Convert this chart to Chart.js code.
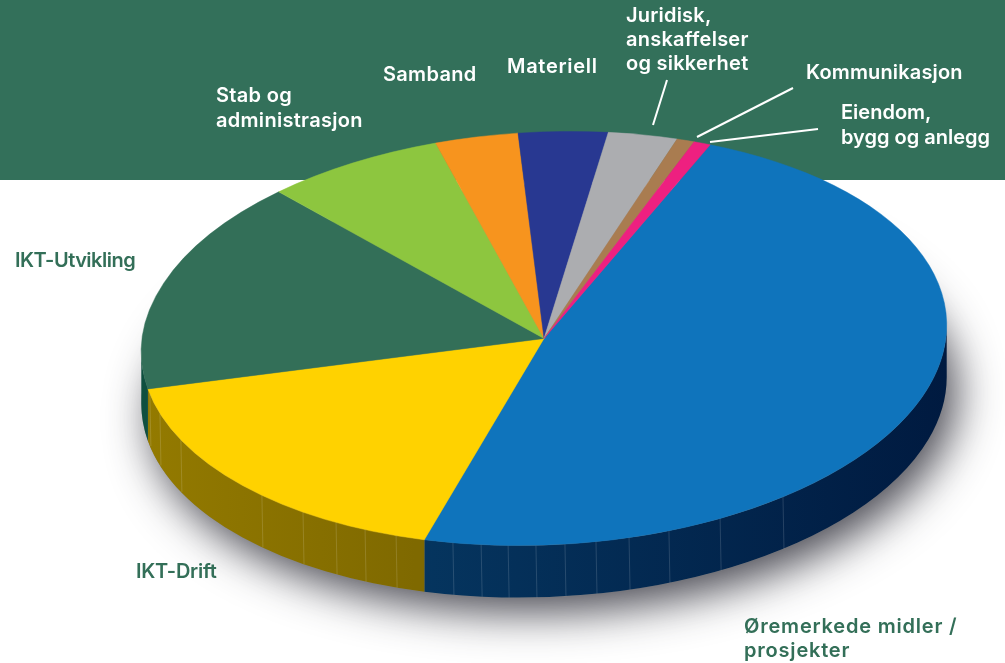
<!DOCTYPE html>
<html><head><meta charset="utf-8">
<style>html,body{margin:0;padding:0;background:#fff;overflow:hidden}#wrap{width:1005px;height:663px;position:relative}</style>
<script src="https://cdn.jsdelivr.net/npm/chart.js@4"></script>
</head><body><div id="wrap"><canvas id="c" width="1005" height="663"></canvas></div>
<script>
const categories = ["Øremerkede midler / prosjekter","IKT-Drift","IKT-Utvikling","Stab og administrasjon","Samband","Materiell","Juridisk, anskaffelser og sikkerhet","Eiendom, bygg og anlegg","Kommunikasjon"];
const values = [48.03,17.31,16.44,7.11,3.31,3.58,2.81,0.72,0.69];
const colors = ["#0f74bc","#ffd200","#336f58","#8dc63f","#f7941e","#283891","#acadb0","#a97c50","#ee2080"];
const sideColors = [["#05355f","#001a40"],["#937a00","#7f6900"],["#0f4f3f","#0f4f3f"],["#567a26","#567a26"],["#95591a","#95591a"],["#182259","#182259"],["#68686a","#68686a"],["#654b30","#654b30"],["#8f124a","#8f124a"]];
const startAngle = 25.7;
const TILT = 206.5/403, DEPTH = 52, BAND = 180, PHI = 0.045;
const blueFacets = [-.226,-.156,-.089,-.020,.052,.129,.211,.310,.437,.593];
const yellowFacets = [-.978,-.953,-.901,-.700,-.598,-.516,-.444,-.367];
const FONT = '600 20px Inter';
const labels = [
 {t:"Juridisk,",x:626,y:22,c:"#fff",ls:.2},{t:"anskaffelser",x:626,y:46,c:"#fff",ls:.25},{t:"og sikkerhet",x:626,y:70,c:"#fff",ls:.25},
 {t:"Kommunikasjon",x:806,y:79,c:"#fff",ls:.15},
 {t:"Eiendom,",x:841,y:119,c:"#fff",ls:0},{t:"bygg og anlegg",x:841,y:144,c:"#fff",ls:0},
 {t:"Stab og",x:216,y:102,c:"#fff",ls:.3},{t:"administrasjon",x:216,y:127,c:"#fff",ls:.3},
 {t:"Samband",x:383,y:81,c:"#fff",ls:.3},{t:"Materiell",x:507,y:73,c:"#fff",ls:.7},
 {t:"IKT-Utvikling",x:15,y:267,c:"#336f58",ls:-.5},{t:"IKT-Drift",x:136,y:578,c:"#336f58",ls:-.25},
 {t:"Øremerkede midler /",x:744,y:633,c:"#336f58",ls:.8},{t:"prosjekter",x:744,y:657,c:"#336f58",ls:.8}
];
const leaders = [[667,80,653,125],[793,88,697,137],[818,129,710,142]];

function geom(chart){const a=chart.getDatasetMeta(0).data[0];return {cx:a.x,cy:a.y,rx:a.outerRadius,ry:a.outerRadius*TILT};}
const pie3d = {
 id:'pie3d',
 beforeDatasetsDraw(chart){
  const ctx=chart.ctx,{cx,cy,rx,ry}=geom(chart);
  ctx.save();
  ctx.fillStyle='#33705a';ctx.fillRect(0,0,chart.width,BAND);
  ctx.beginPath();ctx.rect(0,BAND,chart.width,chart.height-BAND);ctx.clip();
  ctx.shadowColor='rgba(50,50,60,0.88)';ctx.shadowBlur=44;ctx.shadowOffsetX=10;ctx.shadowOffsetY=15;
  ctx.fillStyle='#888';
  ctx.beginPath();ctx.ellipse(cx,cy+DEPTH,rx,ry,-PHI,0,Math.PI*2);ctx.fill();
  ctx.restore();
  // side wall: the parameter range whose outward normal faces the viewer
  const t0=Math.atan(TILT*Math.tan(PHI));
  chart.getDatasetMeta(0).data.forEach((arc,i)=>{
   for(const k of [-2,0,2]){
    const lo=k*Math.PI+t0,hi=(k+1)*Math.PI+t0;
    const a0=Math.max(arc.startAngle,lo),a1=Math.min(arc.endAngle,hi);
    if(a1<=a0)continue;
    const s0=a0-k*Math.PI,s1=a1-k*Math.PI;
    const g=ctx.createLinearGradient(cx+rx*Math.cos(s1),0,cx+rx*Math.cos(s0),0);
    g.addColorStop(0,sideColors[i][0]);g.addColorStop(1,sideColors[i][1]);
    ctx.fillStyle=g;ctx.beginPath();
    ctx.ellipse(cx,cy,rx,ry,-PHI,s0,s1);ctx.ellipse(cx,cy+DEPTH,rx,ry,-PHI,s1,s0,true);ctx.closePath();ctx.fill();
   }
  });
  ctx.strokeStyle='rgba(255,255,255,0.14)';ctx.lineWidth=1;
  const c=Math.cos(PHI),s=Math.sin(PHI),R=Math.hypot(rx*c,ry*s);
  for(const f of [...blueFacets,...yellowFacets]){
   const t=t0+Math.acos(f*rx/R);
   const x=cx+rx*Math.cos(t)*c+ry*Math.sin(t)*s,y=cy-rx*Math.cos(t)*s+ry*Math.sin(t)*c;
   ctx.beginPath();ctx.moveTo(x,y);ctx.lineTo(x+1,y+DEPTH);ctx.stroke();
  }
  ctx.save();ctx.translate(cx,cy);ctx.rotate(-PHI);ctx.scale(1,TILT);ctx.translate(-cx,-cy);
 },
 afterDatasetsDraw(chart){
  const ctx=chart.ctx;ctx.restore();
  ctx.save();
  ctx.strokeStyle='#fff';ctx.lineWidth=2;
  for(const l of leaders){ctx.beginPath();ctx.moveTo(l[0],l[1]);ctx.lineTo(l[2],l[3]);ctx.stroke();}
  ctx.font=FONT;ctx.textBaseline='alphabetic';ctx.textAlign='left';
  for(const l of labels){ctx.letterSpacing=l.ls+'px';ctx.fillStyle=l.c;ctx.fillText(l.t,l.x,l.y);}
  ctx.restore();
 }
};
new Chart(document.getElementById('c'),{
 type:'pie',
 data:{labels:categories,datasets:[{data:values,backgroundColor:colors,borderColor:colors,borderWidth:0.6,clip:false,radius:403,hoverOffset:0}]},
 options:{responsive:false,animation:false,rotation:startAngle,
  layout:{padding:{left:83,top:14,right:0,bottom:0}},
  events:[],
  plugins:{legend:{display:false},tooltip:{enabled:false}}},
 plugins:[pie3d]
});
</script></body></html>
